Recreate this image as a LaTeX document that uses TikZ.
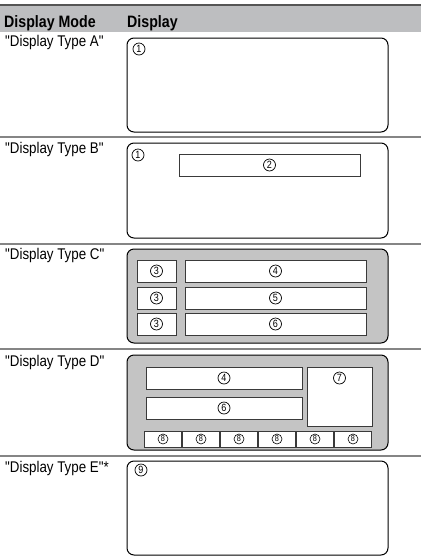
\documentclass[tikz,border=0pt]{standalone}
\usepackage{fontspec}
\newfontfamily\labfont{Liberation Sans}[FakeStretch=0.86]
\definecolor{headgray}{HTML}{BDBEC0}
\definecolor{panelgray}{HTML}{C4C4C4}
\definecolor{sepgray}{HTML}{858585}
\definecolor{topline}{HTML}{555555}
\definecolor{innerline}{HTML}{3A3A3A}
\tikzset{
  outerbox/.style={draw=black, line width=1pt, rounded corners=7pt, inner sep=0pt, outer sep=0pt, anchor=north west},
  panelbox/.style={outerbox, fill=panelgray},
  innerbox/.style={draw=innerline, line width=0.9pt, fill=white, inner sep=0pt, outer sep=0pt, anchor=north west},
  num/.style={circle, draw=black, line width=0.7pt, minimum size=12pt, inner sep=0pt, font=\labfont\fontsize{10.5}{10.5}\selectfont},
  smallnum/.style={circle, draw=black, line width=0.6pt, minimum size=10pt, inner sep=0pt, font=\labfont\fontsize{8.5}{8.5}\selectfont},
  headtxt/.style={anchor=base west, inner sep=0pt, font=\labfont\fontsize{16.5}{18}\selectfont\bfseries},
  labtxt/.style={anchor=base west, inner sep=0pt, font=\labfont\fontsize{15.5}{17}\selectfont},
  sepline/.style={draw=sepgray, line width=1.2pt}
}
\begin{document}
\begin{tikzpicture}[x=1pt, y=-1pt]
\useasboundingbox (0,0) rectangle (421,558);
% header
\fill[headgray] (0,5) rectangle (421,32);
\draw[topline, line width=1.8pt] (0,5) -- (421,5);
\node[headtxt] (hmode) at (4,27.5) {Display Mode};
\node[headtxt] (hdisp) at (127,27.5) {Display};
% separators
\coordinate (s1a) at (0,137); \coordinate (s1b) at (421,137);
\coordinate (s2a) at (0,244); \coordinate (s2b) at (421,244);
\coordinate (s3a) at (0,349); \coordinate (s3b) at (421,349);
\coordinate (s4a) at (0,456); \coordinate (s4b) at (421,456);
\draw[sepline] (s1a) -- (s1b);
\draw[sepline] (s2a) -- (s2b);
\draw[sepline] (s3a) -- (s3b);
\draw[sepline] (s4a) -- (s4b);
% labels
\node[labtxt] (labA) at (5,46) {"Display Type A"};
\node[labtxt] (labB) at (5,153) {"Display Type B"};
\node[labtxt] (labC) at (5,259) {"Display Type C"};
\node[labtxt] (labD) at (5,366) {"Display Type D"};
\node[labtxt] (labE) at (5,472) {"Display Type E"*};
% Type A
\node[outerbox, minimum width=261pt, minimum height=94pt] (boxA) at (127,38) {};
\node[num] (a1) at (139,49) {1};
% Type B
\node[outerbox, minimum width=261pt, minimum height=95pt] (boxB) at (127,143) {};
\node[num] (b1) at (138,155) {1};
\node[innerbox, minimum width=181pt, minimum height=22pt] (b2box) at (179,154) {};
\node[num] (b2) at (b2box.center) {2};
% Type C
\node[panelbox, minimum width=261pt, minimum height=94pt] (boxC) at (127,249) {};
\node[innerbox, minimum width=39pt, minimum height=22pt] (c3a) at (137,260) {};
\node[innerbox, minimum width=39pt, minimum height=22pt] (c3b) at (137,287) {};
\node[innerbox, minimum width=39pt, minimum height=22pt] (c3c) at (137,313) {};
\node[innerbox, minimum width=181pt, minimum height=22pt] (c4) at (185,260) {};
\node[innerbox, minimum width=181pt, minimum height=22pt] (c5) at (185,287) {};
\node[innerbox, minimum width=181pt, minimum height=22pt] (c6) at (185,313) {};
\node[num] (n3a) at (c3a.center) {3};
\node[num] (n3b) at (c3b.center) {3};
\node[num] (n3c) at (c3c.center) {3};
\node[num] (n4) at (c4.center) {4};
\node[num] (n5) at (c5.center) {5};
\node[num] (n6) at (c6.center) {6};
% Type D
\node[panelbox, minimum width=261pt, minimum height=95pt] (boxD) at (127,355) {};
\node[innerbox, minimum width=156pt, minimum height=22pt] (d4) at (146,367) {};
\node[innerbox, minimum width=156pt, minimum height=22pt] (d6) at (146,397) {};
\node[innerbox, minimum width=65pt, minimum height=59pt] (d7) at (307,367) {};
\node[num] (m4) at (d4.center) {4};
\node[num] (m6) at (d6.center) {6};
\node[num] (m7) at (339.5,378) {7};
\foreach \i/\x in {1/144,2/182,3/220,4/258,5/296,6/334}{
  \node[innerbox, minimum width=37pt, minimum height=16pt] (d8box\i) at (\x+0.5,431) {};
  \node[smallnum] (m8\i) at (d8box\i.center) {8};
}
% Type E
\node[outerbox, minimum width=261pt, minimum height=94pt] (boxE) at (127,461) {};
\node[num] (e9) at (141,470) {9};
\end{tikzpicture}
\end{document}
